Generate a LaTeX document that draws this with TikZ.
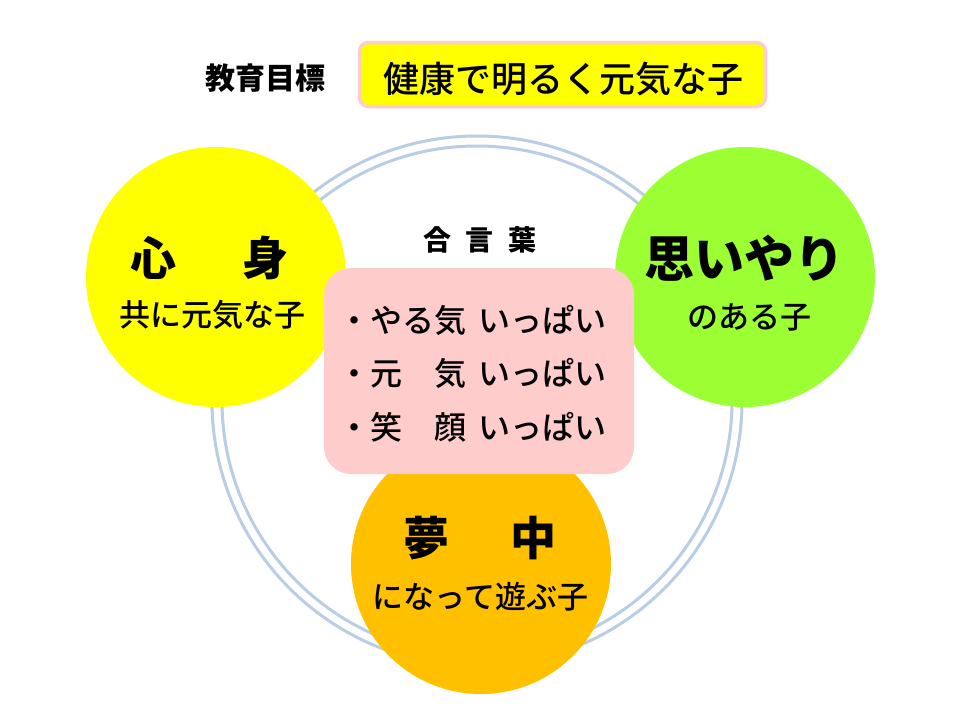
\documentclass[tikz,border=0pt]{standalone}
\usepackage{fontspec}
\newfontfamily\jp{Noto Sans CJK JP}
\newfontfamily\jpm{Noto Sans CJK JP Medium}
\definecolor{ringc}{HTML}{B9CDE5}
\definecolor{yelc}{HTML}{FFFF00}
\definecolor{grnc}{HTML}{9BFF33}
\definecolor{orgc}{HTML}{FFC000}
\definecolor{pnkc}{HTML}{FFCCCC}
\begin{document}
\begin{tikzpicture}[x=1pt,y=-1pt,
  every node/.style={inner sep=0pt, outer sep=0pt},
  ring/.style={draw=ringc, line width=3pt},
  bigc/.style={circle, minimum size=260pt, draw=none},
  head/.style={font=\jp\bfseries\fontsize{46}{46}\selectfont},
  sub/.style={font=\jpm\fontsize{31}{31}\selectfont},
  bul/.style={anchor=west, font=\jpm\fontsize{32}{32}\selectfont}]
\useasboundingbox (0,0) rectangle (960,720);
\coordinate (rc) at (477,401);
\draw[ring] (rc) circle[radius=265pt];
\draw[ring] (rc) circle[radius=255pt];
% circles
\node[bigc, fill=yelc] (c1) at (216,277) {};
\node[bigc, fill=grnc] (c2) at (745,277) {};
\node[bigc, fill=orgc] (c3) at (481,564) {};
% central box
\node[fill=pnkc, rounded corners=27pt, minimum width=310pt, minimum height=206pt] (mid) at (479,371) {};
% title
\node[font=\jp\bfseries\fontsize{30}{30}\selectfont] (lab) at (265,78) {教育目標};
\node[draw=pnkc, line width=3.5pt, fill=yelc, rounded corners=9pt, minimum width=406pt, minimum height=64pt] (goalbox) at (562.5,74.5) {};
\node[font=\jpm\fontsize{36}{36}\selectfont] (goal) at (563,79) {健康で明るく元気な子};
% circle texts
\node[head] (t1) at (209.5,258) {心\hspace{67pt}身};
\node[sub] (s1) at (212,315) {共に元気な子};
\node[head, font=\jp\bfseries\fontsize{50}{50}\selectfont] (t2) at (744,258) {思いやり};
\node[sub] (s2) at (749,317) {のある子};
\node[head] (t3) at (480,538) {夢\hspace{62pt}中};
\node[sub] (s3) at (480.5,597) {になって遊ぶ子};
% motto
\node[font=\jp\bfseries\fontsize{28}{28}\selectfont] (mt) at (480,240) {合\hspace{15pt}言\hspace{15pt}葉};
\node[bul] (b1) at (338,320) {・やる気\hspace{12pt}いっぱい};
\node[bul] (b2) at (338,373) {・元　気\hspace{12pt}いっぱい};
\node[bul] (b3) at (338,427) {・笑　顔\hspace{12pt}いっぱい};
\end{tikzpicture}
\end{document}
